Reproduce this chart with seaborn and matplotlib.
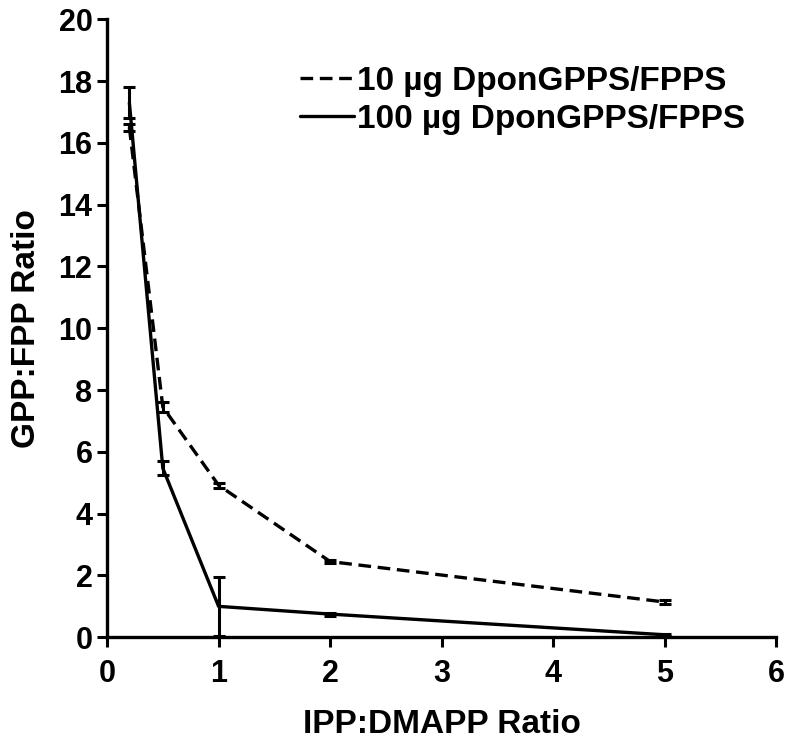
import matplotlib
matplotlib.use("Agg")
import matplotlib.pyplot as plt
import numpy as np
import pandas as pd
import seaborn as sns

# IPP:DMAPP ratios tested
ratio = [0.2, 0.5, 1, 2, 5]

# GPP:FPP ratio, 10 ug enzyme (dashed)
gpp_10 = [16.5, 7.45, 4.92, 2.45, 1.14]
err_10 = [0.12, 0.15, 0.08, 0.05, 0.05]

# GPP:FPP ratio, 100 ug enzyme (solid)
gpp_100 = [17.3, 5.47, 1.0, 0.75, 0.08]
err_100 = [0.5, 0.23, 0.95, 0.05, 0.03]

label_10 = "10 µg DponGPPS/FPPS"
label_100 = "100 µg DponGPPS/FPPS"

df = pd.concat([
    pd.DataFrame({"ratio": ratio, "gpp": gpp_10, "err": err_10, "series": label_10}),
    pd.DataFrame({"ratio": ratio, "gpp": gpp_100, "err": err_100, "series": label_100}),
])

sns.set_style("ticks")
plt.rcParams["font.family"] = ["Liberation Sans", "DejaVu Sans"]
plt.rcParams["font.weight"] = "bold"
for key in ["text.color", "axes.labelcolor", "xtick.color", "ytick.color", "axes.edgecolor"]:
    plt.rcParams[key] = "black"

fig = plt.figure(figsize=(7.93, 7.41), dpi=100)
ax = fig.add_axes([0.135, 0.140, 0.844, 0.834])

styles = {label_10: (0, (3.8, 2.0)), label_100: "-"}
for name, sub in df.groupby("series", sort=False):
    sns.lineplot(data=sub, x="ratio", y="gpp", ax=ax, color="black", linewidth=2.4,
                 linestyle=styles[name], marker="s", markersize=5, markeredgewidth=0,
                 label=name, errorbar=None)
    ax.errorbar(sub["ratio"], sub["gpp"], yerr=sub["err"], fmt="none", ecolor="black",
                elinewidth=2.2, capsize=4.5, capthick=2.2)

ax.set_xlim(0, 6)
ax.set_ylim(0, 20)
ax.set_xticks(range(0, 7))
ax.set_yticks(range(0, 21, 2))
ax.tick_params(axis="both", labelsize=22, width=2.2, length=7, direction="out", colors="black")
ax.tick_params(axis="x", pad=9)
for t in ax.get_xticklabels() + ax.get_yticklabels():
    t.set_fontweight("bold")
for s in ["left", "bottom"]:
    ax.spines[s].set_linewidth(2.4)
    ax.spines[s].set_color("black")
sns.despine(ax=ax)

ax.set_xlabel("IPP:DMAPP Ratio", fontsize=24, fontweight="bold", labelpad=14, color="black")
ax.set_ylabel("GPP:FPP Ratio", fontsize=24, fontweight="bold", labelpad=12, color="black")

# legend without markers, short handles
handles, labels = ax.get_legend_handles_labels()
for h in handles:
    h.set_marker("")
leg = ax.legend(handles, labels, loc="upper right", bbox_to_anchor=(745 / 793, 1 - 66 / 741),
                bbox_transform=fig.transFigure, frameon=False, borderpad=0, borderaxespad=0,
                handlelength=1.6, handletextpad=0.1, labelspacing=0.2,
                prop={"weight": "bold", "size": 24})
for t in leg.get_texts():
    t.set_color("black")

fig.savefig("out.png", dpi=100)
